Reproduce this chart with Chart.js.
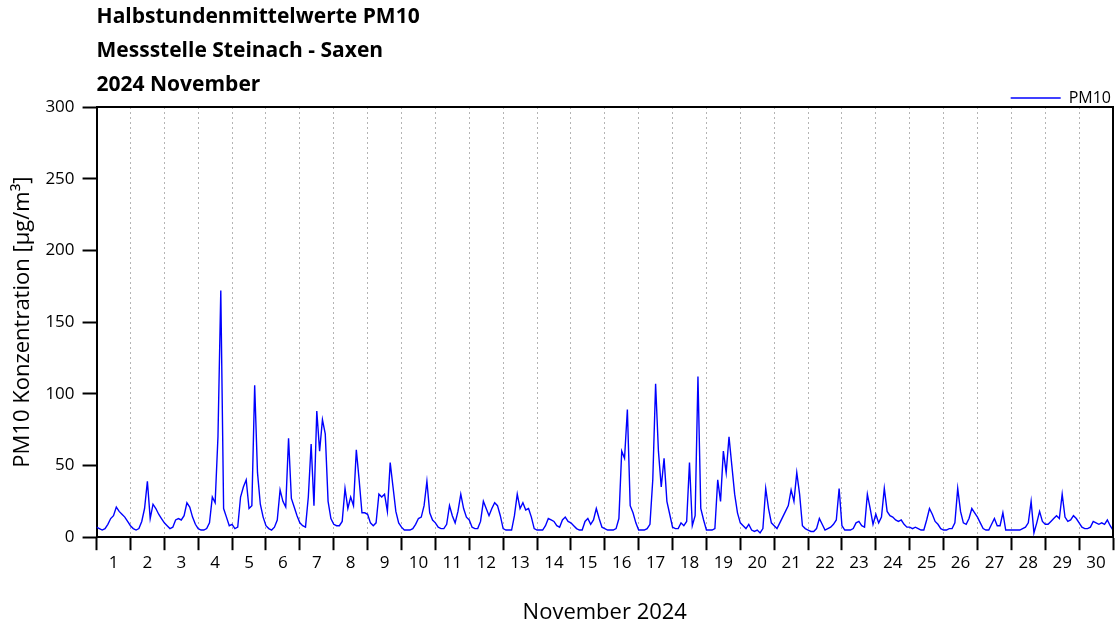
<!DOCTYPE html>
<html>
<head>
<meta charset="utf-8">
<script src="https://cdn.jsdelivr.net/npm/chart.js@4/dist/chart.umd.min.js"></script>
<style>
  body { margin: 0; background: #fff; }
  canvas { display: block; }
</style>
</head>
<body>
<canvas id="chart" width="1120" height="628"></canvas>
<script>
// PM10 Steinach - Saxen, November 2024 (2-hour steps, 12 per day)
let stepsPerDay = 12;

let pm10 = [
  7, 6, 5, 6, 9, 13, 15, 21, 18, 16, 14, 11,        // 1
  8, 6, 5, 6, 11, 20, 39, 13, 23, 20, 16, 13,       // 2
  10, 8, 6, 7, 12, 13, 12, 15, 24, 21, 14, 9,       // 3
  6, 5, 5, 6, 10, 28, 24, 70, 172, 20, 14, 8,       // 4
  9, 6, 7, 28, 35, 40, 20, 22, 106, 45, 23, 14,     // 5
  8, 6, 5, 7, 12, 33, 25, 21, 69, 27, 21, 15,       // 6
  10, 8, 7, 28, 65, 22, 88, 60, 82, 72, 25, 13,     // 7
  9, 8, 8, 11, 34, 20, 28, 22, 61, 40, 17, 17,      // 8
  16, 10, 8, 10, 30, 28, 30, 18, 52, 35, 18, 10,    // 9
  7, 5, 5, 5, 6, 9, 13, 14, 22, 39, 17, 12,         // 10
  10, 7, 6, 6, 9, 22, 15, 10, 18, 30, 20, 14,       // 11
  12, 7, 6, 6, 11, 25, 20, 15, 20, 24, 22, 15,      // 12
  6, 5, 5, 5, 15, 30, 20, 24, 19, 20, 14, 6,        // 13
  5, 5, 5, 8, 13, 12, 11, 8, 7, 12, 14, 11,         // 14
  10, 8, 6, 5, 5, 11, 13, 9, 12, 20, 13, 7,         // 15
  6, 5, 5, 5, 6, 13, 60, 55, 89, 22, 17, 10,        // 16
  5, 5, 5, 6, 9, 40, 107, 60, 35, 55, 25, 16,       // 17
  7, 6, 6, 10, 8, 11, 52, 8, 15, 112, 20, 12,       // 18
  5, 5, 5, 6, 40, 25, 60, 45, 70, 50, 30, 17,       // 19
  10, 8, 6, 9, 5, 4, 5, 3, 6, 34, 20, 10,           // 20
  8, 6, 10, 14, 18, 22, 33, 25, 45, 30, 8, 6,       // 21
  5, 4, 4, 6, 13, 9, 5, 6, 7, 9, 12, 34,            // 22
  8, 5, 5, 5, 6, 10, 11, 8, 7, 30, 20, 9,           // 23
  16, 10, 14, 34, 18, 15, 14, 12, 11, 12, 9, 7,     // 24
  7, 6, 7, 6, 5, 5, 12, 20, 16, 11, 9, 6,           // 25
  5, 5, 6, 6, 10, 34, 18, 10, 9, 13, 20, 17,        // 26
  14, 10, 6, 5, 5, 9, 13, 8, 8, 17, 5, 5,           // 27
  5, 5, 5, 5, 6, 7, 10, 25, 3, 10, 18, 11,          // 28
  9, 9, 11, 13, 15, 13, 30, 14, 11, 12, 15, 13,     // 29
  10, 7, 6, 6, 7, 11, 10, 9, 10, 9, 12, 8,          // 30
  5
];

let dayLabels = ['1', '2', '3', '4', '5', '6', '7', '8', '9', '10',
  '11', '12', '13', '14', '15', '16', '17', '18', '19', '20',
  '21', '22', '23', '24', '25', '26', '27', '28', '29', '30'];

let yTicks = [0, 50, 100, 150, 200, 250, 300];

let titleLines = ['Halbstundenmittelwerte PM10', 'Messstelle Steinach - Saxen', '2024 November'];

const FONT = "'Open Sans', 'DejaVu Sans', sans-serif";

// top + right border of the plot box
const frame = {
  id: 'frame',
  afterDraw(chart) {
    let a = chart.chartArea;
    let ctx = chart.ctx;
    ctx.save();
    ctx.strokeStyle = '#000';
    ctx.lineWidth = 2;
    ctx.beginPath();
    ctx.moveTo(a.left, a.top);
    ctx.lineTo(a.right, a.top);
    ctx.lineTo(a.right, a.bottom);
    ctx.stroke();
    ctx.restore();
  }
};

let ctx = document.getElementById('chart').getContext('2d');

let chart = new Chart(ctx, {
  type: 'line',
  data: {
    datasets: [{
      label: 'PM10',
      data: pm10.map((v, i) => ({ x: i / stepsPerDay, y: v })),
      borderColor: '#0000ff',
      backgroundColor: '#0000ff',
      borderWidth: 1.4,
      pointRadius: 0,
      tension: 0
    }]
  },
  options: {
    animation: false,
    responsive: false,
    layout: { padding: { top: 0, right: 7, bottom: 0, left: 0 } },
    plugins: {
      tooltip: { enabled: false },
      title: {
        display: true,
        text: titleLines,
        align: 'start',
        fullSize: false,
        color: '#000',
        font: { family: FONT, size: 21, weight: 'bold', lineHeight: '34px' },
        padding: { top: 0, bottom: -14 }
      },
      legend: {
        display: true,
        position: 'top',
        align: 'end',
        maxHeight: 19,
        labels: {
          color: '#000',
          font: { family: FONT, size: 16 },
          usePointStyle: true,
          pointStyle: 'line',
          pointStyleWidth: 50,
          padding: 2
        }
      }
    },
    scales: {
      x: {
        type: 'linear',
        min: 0,
        max: 30,
        afterBuildTicks: (axis) => {
          let t = [];
          for (let d = 0; d <= dayLabels.length; d++) {
            t.push({ value: d });
            if (d < dayLabels.length) t.push({ value: d + 0.5 });
          }
          axis.ticks = t;
        },
        ticks: {
          autoSkip: false,
          maxRotation: 0,
          padding: 3,
          color: '#000',
          font: { family: FONT, size: 17 },
          callback: (v) => Number.isInteger(v) ? '' : dayLabels[Math.floor(v)]
        },
        grid: {
          drawOnChartArea: true,
          drawTicks: true,
          tickLength: 13,
          tickWidth: 2,
          lineWidth: 1,
          color: (c) => (c.tick && Number.isInteger(c.tick.value)) ? '#b4b4b4' : 'rgba(0,0,0,0)',
          tickColor: (c) => (c.tick && Number.isInteger(c.tick.value)) ? '#000' : 'rgba(0,0,0,0)'
        },
        border: { display: true, color: '#000', width: 2, dash: [2, 3] },
        title: {
          display: true,
          text: 'November 2024',
          color: '#000',
          font: { family: FONT, size: 22 },
          padding: { top: 23, bottom: 2 }
        }
      },
      y: {
        min: 0,
        max: 300,
        afterBuildTicks: (axis) => {
          axis.ticks = yTicks.map(v => ({ value: v }));
        },
        ticks: {
          padding: 8,
          color: '#000',
          font: { family: FONT, size: 17 }
        },
        grid: {
          drawOnChartArea: false,
          drawTicks: true,
          tickLength: 14,
          tickWidth: 2,
          tickColor: '#000'
        },
        border: { display: true, color: '#000', width: 2 },
        title: {
          display: true,
          text: 'PM10 Konzentration [µg/m³]',
          color: '#000',
          font: { family: FONT, size: 22 },
          padding: { top: 10, bottom: 1 }
        }
      }
    }
  },
  plugins: [frame]
});
</script>
</body>
</html>
